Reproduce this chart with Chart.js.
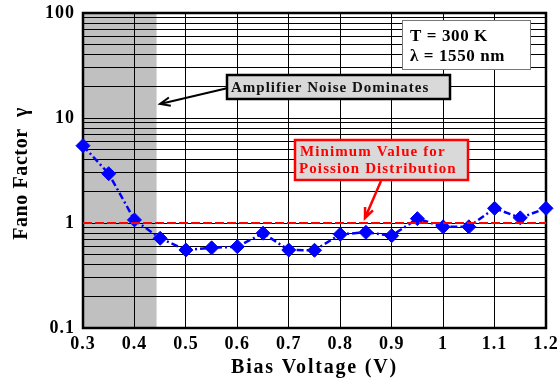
<!DOCTYPE html>
<html>
<head>
<meta charset="utf-8">
<script src="https://cdn.jsdelivr.net/npm/chart.js@4"></script>
<style>
    body { margin: 0; background: #fff; }
    canvas { display: block; }
</style>
</head>
<body>
<canvas id="fanoChart" width="559" height="383"></canvas>
<script>
// ================================
// Fano factor vs bias voltage
// ================================

const voltages = [0.3, 0.35, 0.4, 0.45, 0.5, 0.55, 0.6, 0.65, 0.7, 0.75, 0.8, 0.85, 0.9, 0.95, 1.0, 1.05, 1.1, 1.15, 1.2];
const fano = [5.45, 2.95, 1.07, 0.715, 0.553, 0.58, 0.595, 0.80, 0.553, 0.55, 0.78, 0.815, 0.757, 1.10, 0.92, 0.92, 1.38, 1.12, 1.38];

const xTicks = [0.3, 0.4, 0.5, 0.6, 0.7, 0.8, 0.9, 1.0, 1.1, 1.2];
const xLabels = ['0.3', '0.4', '0.5', '0.6', '0.7', '0.8', '0.9', '1', '1.1', '1.2'];

const yGrid = [0.1, 0.2, 0.3, 0.4, 0.5, 0.6, 0.7, 0.8, 0.9,
               1, 2, 3, 4, 5, 6, 7, 8, 9,
               10, 20, 30, 40, 50, 60, 70, 80, 90, 100];
const yLabelValues = [0.1, 1, 10, 100];
const yLabels = ['0.1', '1', '10', '100'];

const poissonLimit = [1, 1];
const poissonRange = [0.3, 1.2];
const amplifierRange = [0.3, 0.443];

const FONT = "'Liberation Serif', 'Times New Roman', serif";

// Helper: arrow with open head
function drawArrow(ctx, x1, y1, x2, y2, color, width) {
    const ang = Math.atan2(y2 - y1, x2 - x1);
    const head = 11;
    ctx.save();
    ctx.strokeStyle = color;
    ctx.lineWidth = width;
    ctx.beginPath();
    ctx.moveTo(x1, y1);
    ctx.lineTo(x2, y2);
    ctx.moveTo(x2 - head * Math.cos(ang - 0.4), y2 - head * Math.sin(ang - 0.4));
    ctx.lineTo(x2, y2);
    ctx.lineTo(x2 - head * Math.cos(ang + 0.4), y2 - head * Math.sin(ang + 0.4));
    ctx.stroke();
    ctx.restore();
}

// Background, shaded region and frame
const backdropPlugin = {
    id: 'backdrop',
    beforeDraw(chart) {
        const ctx = chart.ctx;
        const area = chart.chartArea;
        const x = chart.scales.x;
        ctx.save();
        ctx.fillStyle = '#ffffff';
        ctx.fillRect(0, 0, chart.width, chart.height);
        ctx.fillStyle = '#c0c0c0';
        const x0 = x.getPixelForValue(amplifierRange[0]);
        const x1 = x.getPixelForValue(amplifierRange[1]);
        ctx.fillRect(x0, area.top, x1 - x0, area.bottom - area.top);
        ctx.restore();
        ctx.letterSpacing = '1px';
    },
    beforeDatasetsDraw(chart) {
        const ctx = chart.ctx;
        const a = chart.chartArea;
        ctx.save();
        ctx.strokeStyle = '#000';
        ctx.lineWidth = 2.5;
        ctx.strokeRect(a.left, a.top, a.right - a.left, a.bottom - a.top);
        ctx.restore();
    }
};

// Axis titles and annotation boxes
const annotationPlugin = {
    id: 'annotations',
    afterDraw(chart) {
        const ctx = chart.ctx;
        const a = chart.chartArea;
        ctx.save();

        // axis titles
        ctx.fillStyle = '#000';
        ctx.font = `bold 20px ${FONT}`;
        ctx.letterSpacing = '1.8px';
        ctx.textAlign = 'center';
        ctx.textBaseline = 'alphabetic';
        ctx.fillText('Bias Voltage (V)', (a.left + a.right) / 2, 373);

        ctx.save();
        ctx.letterSpacing = '0.6px';
        ctx.translate(27, (a.top + a.bottom) / 2 + 3);
        ctx.rotate(-Math.PI / 2);
        ctx.fillText('Fano Factor  \u03b3', 0, 0);
        ctx.restore();

        // T / lambda box
        ctx.fillStyle = '#ffffff';
        ctx.fillRect(402, 20, 128, 49);
        ctx.strokeStyle = '#777';
        ctx.lineWidth = 1;
        ctx.strokeRect(402.5, 20.5, 128, 49);
        ctx.fillStyle = '#000';
        ctx.font = `bold 17px ${FONT}`;
        ctx.letterSpacing = '0.6px';
        ctx.textAlign = 'left';
        ctx.textBaseline = 'middle';
        ctx.fillText('T = 300 K', 410, 37);
        ctx.fillText('\u03bb = 1550 nm', 410, 57);

        // Amplifier noise box
        drawArrow(ctx, 228, 88, 160, 104, '#000', 2);
        ctx.fillStyle = '#d9d9d9';
        ctx.fillRect(227, 75, 223, 24);
        ctx.strokeStyle = '#000';
        ctx.lineWidth = 2.5;
        ctx.strokeRect(227, 75, 223, 24);
        ctx.fillStyle = '#111';
        ctx.font = `bold 15px ${FONT}`;
        ctx.letterSpacing = '1px';
        ctx.fillText('Amplifier Noise Dominates', 231, 88);

        // Poisson box
        drawArrow(ctx, 381, 181, 365, 218, '#ff0000', 2.5);
        ctx.fillStyle = '#d9d9d9';
        ctx.fillRect(295, 140, 173, 40);
        ctx.strokeStyle = '#ff0000';
        ctx.lineWidth = 2.5;
        ctx.strokeRect(295, 140, 173, 40);
        ctx.fillStyle = '#ff0000';
        ctx.font = `bold 15px ${FONT}`;
        ctx.letterSpacing = '1.1px';
        ctx.fillText('Minimum Value for', 300, 152);
        ctx.fillText('Poission Distribution', 299, 169);

        ctx.restore();
    }
};

const ctx = document.getElementById('fanoChart').getContext('2d');

new Chart(ctx, {
    type: 'line',
    data: {
        datasets: [
            {
                label: 'Poisson limit',
                data: poissonRange.map((v, i) => ({ x: v, y: poissonLimit[i] })),
                borderColor: '#ff0000',
                borderWidth: 2,
                borderDash: [9, 3],
                pointRadius: 0,
                fill: false
            },
            {
                label: 'Fano factor',
                data: voltages.map((v, i) => ({ x: v, y: fano[i] })),
                borderColor: '#0000ff',
                backgroundColor: '#0000ff',
                borderWidth: 2.5,
                borderDash: [7, 3, 2, 3],
                pointStyle: 'rectRot',
                pointRadius: 7,
                pointBorderWidth: 1,
                pointBackgroundColor: '#0000ff',
                pointBorderColor: '#0000ff',
                tension: 0,
                clip: false,
                fill: false
            }
        ]
    },
    options: {
        responsive: false,
        animation: false,
        devicePixelRatio: 1,
        layout: {
            padding: { top: 13, right: 13, left: 0, bottom: 0 }
        },
        plugins: {
            legend: { display: false },
            tooltip: { enabled: false }
        },
        scales: {
            x: {
                type: 'linear',
                min: 0.3,
                max: 1.2,
                afterBuildTicks: (scale) => {
                    scale.ticks = xTicks.map(v => ({ value: v }));
                },
                afterFit: (scale) => {
                    scale.height = 55;
                    scale.paddingLeft = 0;
                    scale.paddingRight = 0;
                },
                grid: { color: '#000', lineWidth: 1, drawTicks: false },
                border: { display: false },
                ticks: {
                    autoSkip: false,
                    maxRotation: 0,
                    padding: 6,
                    color: '#000',
                    font: { family: FONT, size: 18, weight: 'bold' },
                    callback: function(value, index) {
                        return xLabels[index];
                    }
                }
            },
            y: {
                type: 'logarithmic',
                min: 0.1,
                max: 100,
                afterBuildTicks: (scale) => {
                    scale.ticks = yGrid.map(v => ({ value: v }));
                },
                afterFit: (scale) => {
                    scale.width = 83;
                    scale.paddingTop = 0;
                    scale.paddingBottom = 0;
                },
                grid: { color: '#000', lineWidth: 1, drawTicks: false },
                border: { display: false },
                ticks: {
                    autoSkip: false,
                    padding: 8,
                    color: '#000',
                    font: { family: FONT, size: 18, weight: 'bold' },
                    callback: function(value) {
                        const i = yLabelValues.findIndex(v => Math.abs(v - value) < 1e-9);
                        return i >= 0 ? yLabels[i] : '';
                    }
                }
            }
        }
    },
    plugins: [backdropPlugin, annotationPlugin]
});
</script>
</body>
</html>
